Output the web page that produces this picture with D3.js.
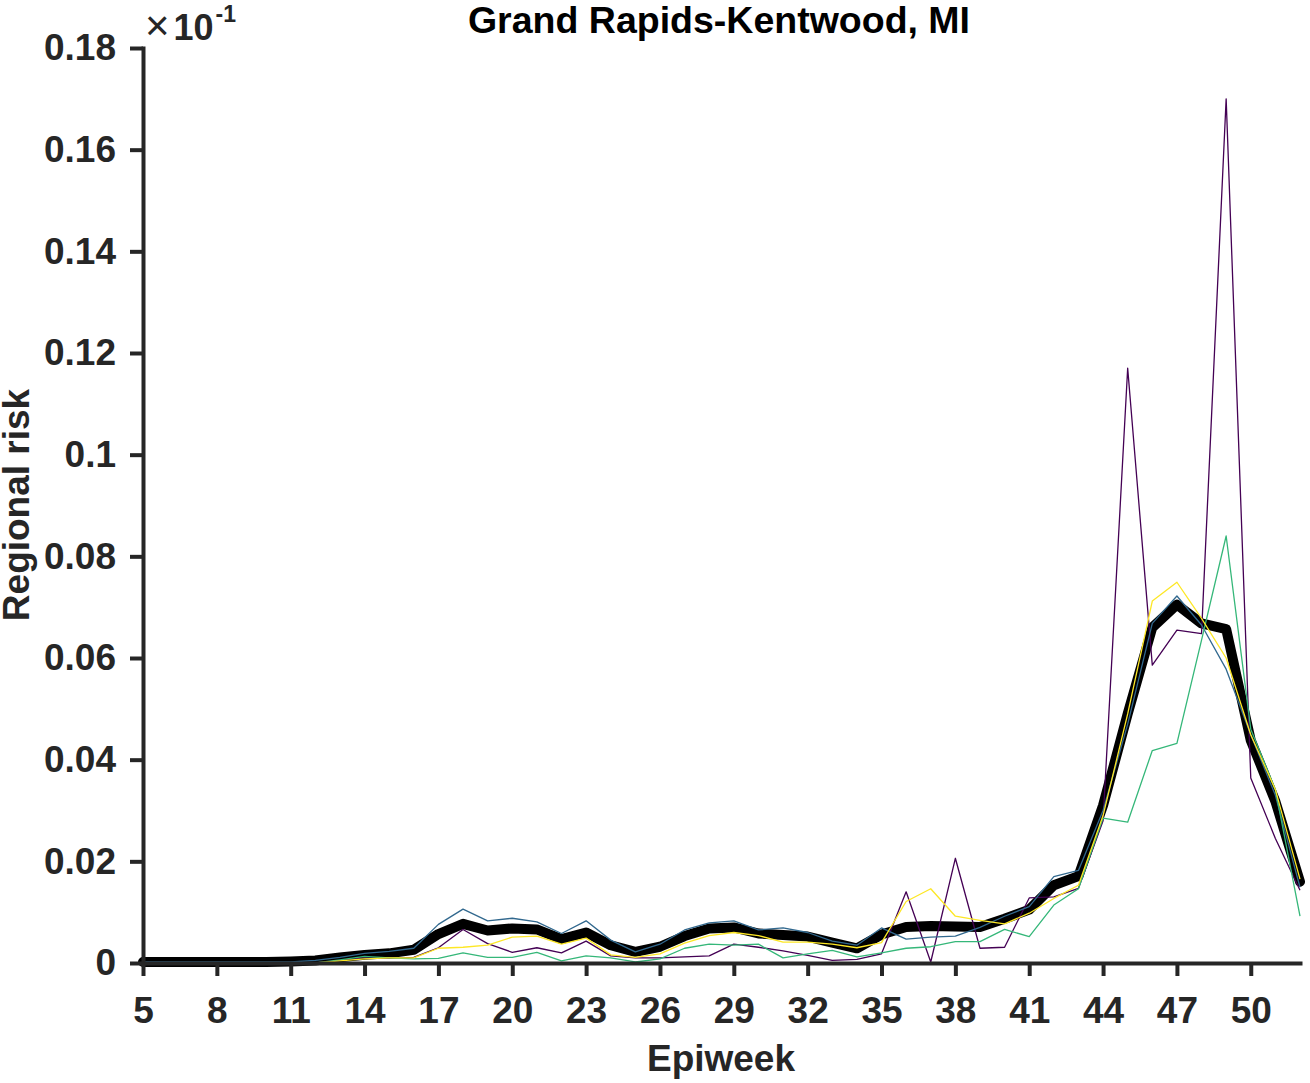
<!DOCTYPE html>
<html><head><meta charset="utf-8">
<script src="https://cdn.jsdelivr.net/npm/d3@7"></script>
<style>body{margin:0;background:#fff} text{font-family:"Liberation Sans",Arial,Helvetica,sans-serif}</style>
</head><body><svg id="c" width="1310" height="1083"></svg>
<script>
const weeks = [5,6,7,8,9,10,11,12,13,14,15,16,17,18,19,20,21,22,23,24,25,26,27,28,29,30,31,32,33,34,35,36,37,38,39,40,41,42,43,44,45,46,47,48,49,50,51,52];

const meanRisk = [0.0002,0.0002,0.0002,0.0002,0.0002,0.0002,0.0003,0.0005,0.0011,0.0016,0.0019,0.0026,0.0057,0.0077,0.0064,0.0068,0.0066,0.0047,0.006,0.0035,0.0022,0.0032,0.0053,0.0068,0.007,0.0058,0.0055,0.0052,0.004,0.0029,0.0056,0.0071,0.0073,0.0072,0.0071,0.0087,0.0105,0.0153,0.0171,0.031,0.049,0.066,0.0705,0.0668,0.0657,0.0438,0.0318,0.016];

const runPurple = [0,0,0,0,0,0,0,0,0.0005,0.001,0.0009,0.0011,0.003,0.0066,0.0038,0.0021,0.003,0.002,0.0043,0.0014,0.001,0.001,0.0012,0.0014,0.0037,0.0031,0.0024,0.0015,0.0005,0.0007,0.0018,0.014,0.0002,0.0206,0.0029,0.0031,0.0128,0.013,0.0147,0.028,0.117,0.0586,0.0655,0.0648,0.17,0.0364,0.0245,0.0143];

const runBlue = [0.0002,0.0002,0.0002,0.0002,0.0002,0.0002,0.0002,0.0005,0.0011,0.0019,0.0023,0.0029,0.0076,0.0106,0.0083,0.0088,0.0081,0.0058,0.0083,0.0045,0.0022,0.0037,0.0065,0.0079,0.0083,0.0065,0.0069,0.006,0.0043,0.0035,0.0069,0.0047,0.0051,0.0053,0.007,0.0092,0.0111,0.017,0.0182,0.030,0.047,0.0668,0.0722,0.0665,0.0578,0.0449,0.033,0.0149];

const runGreen = [0,0,0,0,0,0,0,0,0.0006,0.0013,0.001,0.0008,0.0009,0.002,0.0011,0.0011,0.0021,0.0004,0.0014,0.001,0.0002,0.0008,0.0029,0.0037,0.0035,0.0037,0.001,0.0018,0.0025,0.0012,0.002,0.0029,0.0032,0.0042,0.0042,0.0066,0.0052,0.0114,0.0146,0.0285,0.0277,0.0418,0.0432,0.0635,0.084,0.046,0.0341,0.0092];

const runYellow = [0,0,0,0,0,0,0,0,0.0004,0.0008,0.001,0.001,0.0029,0.0031,0.0035,0.0051,0.0053,0.0037,0.0049,0.0016,0.0011,0.0018,0.0039,0.0054,0.006,0.0054,0.0041,0.0041,0.0037,0.003,0.004,0.0121,0.0146,0.0092,0.0084,0.0077,0.0098,0.0127,0.0153,0.029,0.049,0.0712,0.0749,0.0678,0.06,0.0449,0.0341,0.0165];

const xTicks = [5,8,11,14,17,20,23,26,29,32,35,38,41,44,47,50];
const yTicks = [0,0.02,0.04,0.06,0.08,0.1,0.12,0.14,0.16,0.18];
const yTickLabels = ["0","0.02","0.04","0.06","0.08","0.1","0.12","0.14","0.16","0.18"];

const svg = d3.select("#c");
const L = 143, R = 1300, T = 48, B = 963;
const x = d3.scaleLinear().domain([5,52]).range([L,R]);
const y = d3.scaleLinear().domain([0,0.18]).range([B,T]);
const axisColor = "#262626";

const line = d3.line().x((d,i)=>x(weeks[i])).y(d=>y(d));

// mean (thick black)
svg.append("path").datum(meanRisk).attr("d", line)
  .attr("fill","none").attr("stroke","#000").attr("stroke-width",10)
  .attr("stroke-linejoin","round").attr("stroke-linecap","round");

const runs = [
  {data: runPurple, color: "#440154"},
  {data: runBlue, color: "#31688e"},
  {data: runGreen, color: "#35b779"},
  {data: runYellow, color: "#fde725"}
];
runs.forEach(r => {
  svg.append("path").datum(r.data).attr("d", line)
    .attr("fill","none").attr("stroke", r.color).attr("stroke-width",1.3)
    .attr("stroke-linejoin","round");
});

// axes
const gx = svg.append("g").attr("transform",`translate(0,${B})`)
  .call(d3.axisBottom(x).tickValues(xTicks).tickFormat(d3.format("d")).tickSize(13).tickSizeOuter(0).tickPadding(21));
const gy = svg.append("g").attr("transform",`translate(${L},0)`)
  .call(d3.axisLeft(y).tickValues(yTicks).tickFormat((d,i)=>yTickLabels[i]).tickSize(13).tickSizeOuter(0).tickPadding(14));

[gx, gy].forEach(g => {
  g.select(".domain").attr("stroke", axisColor).attr("stroke-width",4).attr("stroke-linecap","square");
  g.selectAll(".tick line").attr("stroke", axisColor).attr("stroke-width",4);
  g.selectAll(".tick text").attr("fill", axisColor).attr("font-size",37).attr("font-weight","bold")
    .attr("font-family",'"Liberation Sans",Arial,sans-serif');
});

// exponent
const ex = svg.append("text").attr("x",145).attr("y",40).attr("fill",axisColor)
  .attr("font-family",'"Liberation Sans",Arial,sans-serif');
ex.append("tspan").attr("font-size",42).attr("font-weight","normal").text("×");
ex.append("tspan").attr("font-size",36).attr("font-weight","bold").attr("dx",4).text("10");
ex.append("tspan").attr("font-size",23).attr("font-weight","bold").attr("dy",-18).attr("dx",2).text("-1");

// title
svg.append("text").attr("x",719).attr("y",33).attr("text-anchor","middle")
  .attr("font-size",37.5).attr("font-weight","bold").attr("fill","#000").text("Grand Rapids-Kentwood, MI");

// x label
svg.append("text").attr("x",721).attr("y",1071).attr("text-anchor","middle")
  .attr("font-size",37).attr("font-weight","bold").attr("fill",axisColor).text("Epiweek");

// y label
svg.append("text").attr("transform",`translate(29,505) rotate(-90)`).attr("text-anchor","middle")
  .attr("font-size",37).attr("font-weight","bold").attr("fill",axisColor).text("Regional risk");
</script></body></html>
